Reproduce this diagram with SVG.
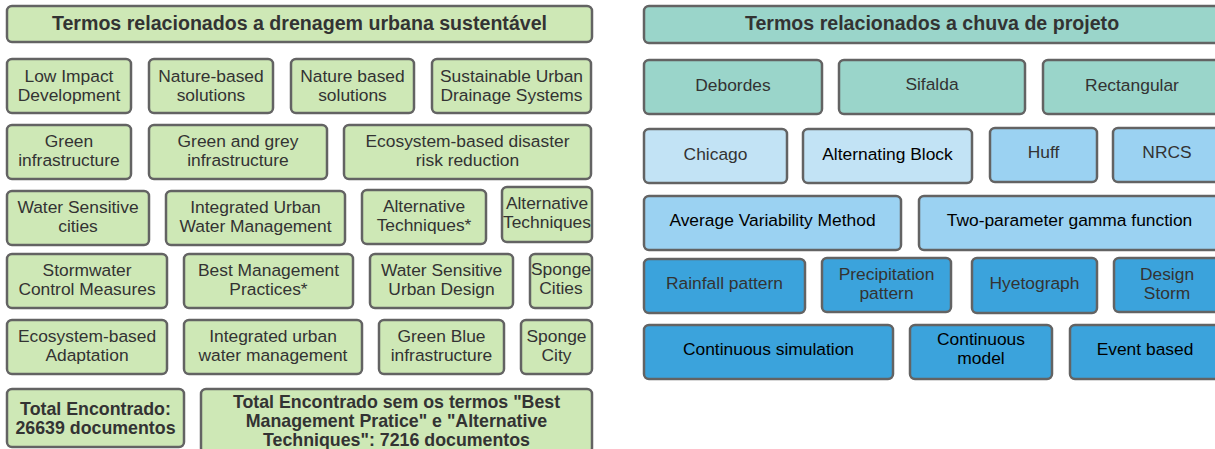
<svg xmlns="http://www.w3.org/2000/svg" width="1215" height="449" viewBox="0 0 1215 449">
<style>
rect{stroke:#636363;stroke-width:2.5}
.g{fill:#cee8b6}
.t{fill:#9ad5ca}
.lb{fill:#c2e3f5}
.mb{fill:#9bd2f2}
.db{fill:#3ba3dc}
text{font-family:"Liberation Sans",Arial,sans-serif;font-size:17.4px;fill:#333;text-anchor:middle}
.h{font-weight:bold;font-size:19.6px}
.b{font-weight:bold;font-size:17.8px}
.k{fill:#000}
</style>
<g id="left-title"><rect class="g" x="7" y="6" width="585" height="36" rx="5"/><text class="h" x="299.5" y="30">Termos relacionados a drenagem urbana sustentável</text></g>
<g id="n1"><rect class="g" x="7" y="59" width="124" height="54" rx="5"/><text x="69" y="82">Low Impact</text><text x="69" y="101">Development</text></g>
<g id="n2"><rect class="g" x="149" y="59" width="124" height="54" rx="5"/><text x="211" y="82">Nature-based</text><text x="211" y="101">solutions</text></g>
<g id="n3"><rect class="g" x="291" y="59" width="123" height="54" rx="5"/><text x="352.5" y="82">Nature based</text><text x="352.5" y="101">solutions</text></g>
<g id="n4"><rect class="g" x="432" y="59" width="159" height="54" rx="5"/><text x="511.5" y="82">Sustainable Urban</text><text x="511.5" y="101">Drainage Systems</text></g>
<g id="n5"><rect class="g" x="7" y="125" width="124" height="54" rx="5"/><text x="69" y="147">Green</text><text x="69" y="166">infrastructure</text></g>
<g id="n6"><rect class="g" x="149" y="125" width="178" height="54" rx="5"/><text x="238" y="147">Green and grey</text><text x="238" y="166">infrastructure</text></g>
<g id="n7"><rect class="g" x="344" y="125" width="247" height="54" rx="5"/><text x="467.5" y="147">Ecosystem-based disaster</text><text x="467.5" y="166">risk reduction</text></g>
<g id="n8"><rect class="g" x="7" y="191" width="142" height="54" rx="5"/><text x="78" y="213">Water Sensitive</text><text x="78" y="232">cities</text></g>
<g id="n9"><rect class="g" x="166" y="191" width="179" height="54" rx="5"/><text x="255.5" y="213">Integrated Urban</text><text x="255.5" y="232">Water Management</text></g>
<g id="n10"><rect class="g" x="362" y="190" width="124" height="54" rx="5"/><text x="424" y="212">Alternative</text><text x="424" y="231">Techniques*</text></g>
<g id="n11"><rect class="g" x="502" y="187" width="90" height="55" rx="5"/><text x="547" y="209">Alternative</text><text x="547" y="228">Techniques</text></g>
<g id="n12"><rect class="g" x="7" y="254" width="160" height="54" rx="5"/><text x="87" y="276">Stormwater</text><text x="87" y="295">Control Measures</text></g>
<g id="n13"><rect class="g" x="184" y="254" width="169" height="54" rx="5"/><text x="268.5" y="276">Best Management</text><text x="268.5" y="295">Practices*</text></g>
<g id="n14"><rect class="g" x="370" y="254" width="143" height="54" rx="5"/><text x="441.5" y="276">Water Sensitive</text><text x="441.5" y="295">Urban Design</text></g>
<g id="n15"><rect class="g" x="530" y="254" width="62" height="54" rx="5"/><text x="561" y="275">Sponge</text><text x="561" y="294">Cities</text></g>
<g id="n16"><rect class="g" x="7" y="320" width="160" height="54" rx="5"/><text x="87" y="342">Ecosystem-based</text><text x="87" y="361">Adaptation</text></g>
<g id="n17"><rect class="g" x="184" y="320" width="178" height="54" rx="5"/><text x="273" y="342">Integrated urban</text><text x="273" y="361">water management</text></g>
<g id="n18"><rect class="g" x="379" y="320" width="125" height="54" rx="5"/><text x="441.5" y="342">Green Blue</text><text x="441.5" y="361">infrastructure</text></g>
<g id="n19"><rect class="g" x="521" y="320" width="71" height="54" rx="5"/><text x="556.5" y="342">Sponge</text><text x="556.5" y="361">City</text></g>
<g id="n20"><rect class="g" x="7" y="389" width="177" height="58" rx="5"/><text class="b" x="95.5" y="415">Total Encontrado:</text><text class="b" x="95.5" y="434">26639 documentos</text></g>
<g id="n21"><rect class="g" x="201" y="389" width="391" height="64" rx="5"/><text class="b" x="396.5" y="408">Total Encontrado sem os termos "Best</text><text class="b" x="396.5" y="427">Management Pratice" e "Alternative</text><text class="b" x="396.5" y="446">Techniques": 7216 documentos</text></g>
<g id="right-title"><rect class="t" x="644" y="6" width="576" height="37" rx="5"/><text class="h" x="932" y="30">Termos relacionados a chuva de projeto</text></g>
<g id="r1"><rect class="t" x="644" y="60" width="178" height="54" rx="5"/><text x="733" y="91">Debordes</text></g>
<g id="r2"><rect class="t" x="839" y="60" width="186" height="54" rx="5"/><text x="932" y="90">Sifalda</text></g>
<g id="r3"><rect class="t" x="1043" y="60" width="178" height="54" rx="5"/><text x="1132" y="91">Rectangular</text></g>
<g id="r4"><rect class="lb" x="644" y="129" width="143" height="54" rx="5"/><text x="715.5" y="160">Chicago</text></g>
<g id="r5"><rect class="lb" x="803" y="129" width="169" height="54" rx="5"/><text class="k" x="887.5" y="160">Alternating Block</text></g>
<g id="r6"><rect class="mb" x="990" y="128" width="107" height="54" rx="5"/><text x="1043.5" y="158">Huff</text></g>
<g id="r7"><rect class="mb" x="1113" y="128" width="108" height="54" rx="5"/><text x="1167" y="158">NRCS</text></g>
<g id="r8"><rect class="mb" x="644" y="196" width="257" height="54" rx="5"/><text class="k" x="772.5" y="226">Average Variability Method</text></g>
<g id="r9"><rect class="mb" x="919" y="196" width="301" height="54" rx="5"/><text class="k" x="1069.5" y="226">Two-parameter gamma function</text></g>
<g id="r10"><rect class="db" x="644" y="259" width="161" height="54" rx="5"/><text x="724.5" y="289">Rainfall pattern</text></g>
<g id="r11"><rect class="db" x="822" y="258" width="129" height="54" rx="5"/><text x="886.5" y="280">Precipitation</text><text x="886.5" y="299">pattern</text></g>
<g id="r12"><rect class="db" x="972" y="258" width="125" height="55" rx="5"/><text x="1034.5" y="289">Hyetograph</text></g>
<g id="r13"><rect class="db" x="1114" y="258" width="106" height="54" rx="5"/><text x="1167" y="280">Design</text><text x="1167" y="299">Storm</text></g>
<g id="r14"><rect class="db" x="644" y="325" width="249" height="54" rx="5"/><text class="k" x="768.5" y="355">Continuous simulation</text></g>
<g id="r15"><rect class="db" x="910" y="325" width="142" height="54" rx="5"/><text class="k" x="981" y="345">Continuous</text><text class="k" x="981" y="364">model</text></g>
<g id="r16"><rect class="db" x="1070" y="325" width="150" height="54" rx="5"/><text class="k" x="1145" y="355">Event based</text></g>
<g id="connectors"/>
</svg>
